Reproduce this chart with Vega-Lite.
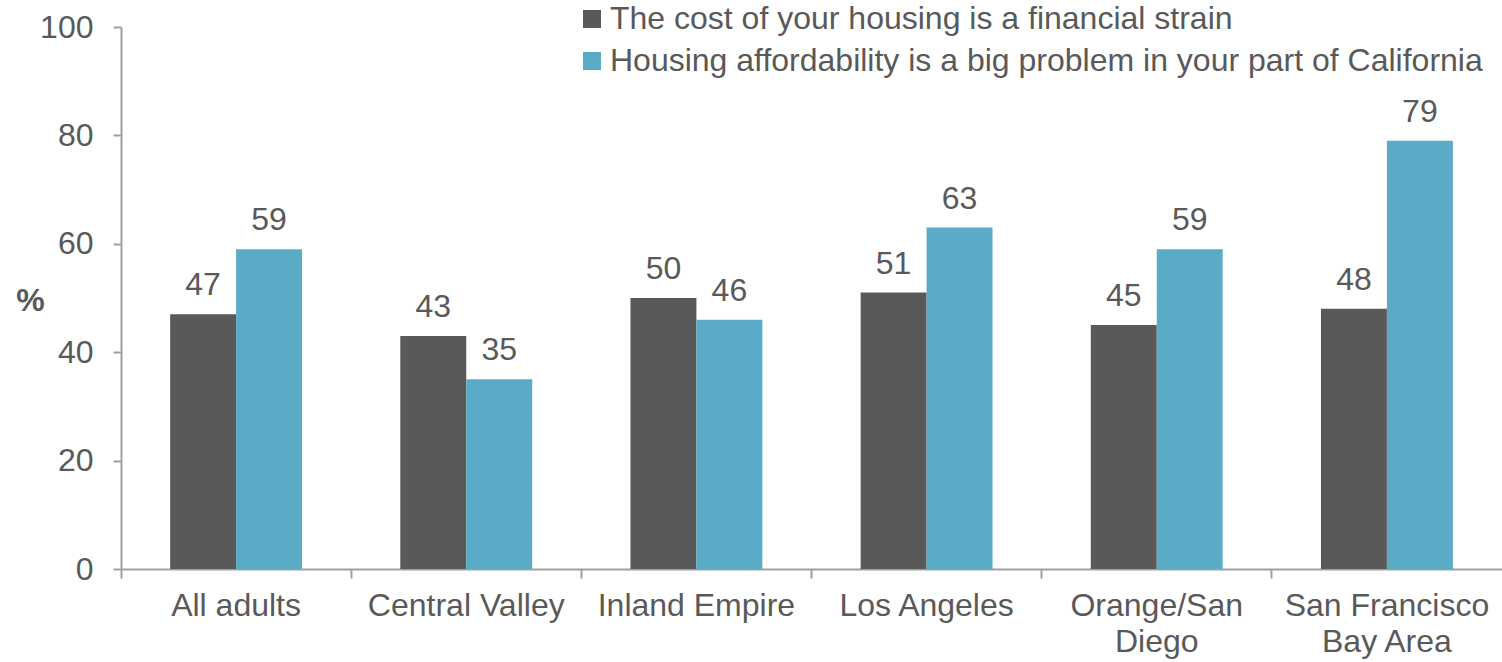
{
  "$schema": "https://vega.github.io/schema/vega-lite/v6.json",
  "width": 1381,
  "height": 542,
  "autosize": {"type": "none"},
  "padding": {"left": 121, "top": 27, "right": 0, "bottom": 93},
  "background": "white",
  "config": {
    "view": {"stroke": null},
    "font": "Liberation Sans",
    "axis": {"labelFont": "Liberation Sans", "titleFont": "Liberation Sans"}
  },
  "data": {
    "values": [
      {"region": "All adults", "series": "The cost of your housing is a financial strain", "value": 47},
      {"region": "All adults", "series": "Housing affordability is a big problem in your part of California", "value": 59},
      {"region": "Central Valley", "series": "The cost of your housing is a financial strain", "value": 43},
      {"region": "Central Valley", "series": "Housing affordability is a big problem in your part of California", "value": 35},
      {"region": "Inland Empire", "series": "The cost of your housing is a financial strain", "value": 50},
      {"region": "Inland Empire", "series": "Housing affordability is a big problem in your part of California", "value": 46},
      {"region": "Los Angeles", "series": "The cost of your housing is a financial strain", "value": 51},
      {"region": "Los Angeles", "series": "Housing affordability is a big problem in your part of California", "value": 63},
      {"region": "Orange/San Diego", "series": "The cost of your housing is a financial strain", "value": 45},
      {"region": "Orange/San Diego", "series": "Housing affordability is a big problem in your part of California", "value": 59},
      {"region": "San Francisco Bay Area", "series": "The cost of your housing is a financial strain", "value": 48},
      {"region": "San Francisco Bay Area", "series": "Housing affordability is a big problem in your part of California", "value": 79}
    ]
  },
  "encoding": {
    "x": {
      "field": "region",
      "type": "nominal",
      "sort": null,
      "scale": {"paddingInner": 0, "paddingOuter": 0},
      "axis": {
        "title": null,
        "labelAngle": 0,
        "labelFontSize": 32,
        "labelColor": "#595959",
        "labelPadding": 12,
        "labelLineHeight": 36,
        "labelBaseline": "top",
        "labelLimit": 0,
        "bandPosition": 0,
        "tickSize": 9,
        "tickColor": "#A0A0A0",
        "tickWidth": 2,
        "domainColor": "#A0A0A0",
        "domainWidth": 2,
        "labelExpr": "datum.label == 'Orange/San Diego' ? ['Orange/San', 'Diego'] : datum.label == 'San Francisco Bay Area' ? ['San Francisco', 'Bay Area'] : datum.label"
      }
    },
    "xOffset": {
      "field": "series",
      "type": "nominal",
      "sort": ["The cost of your housing is a financial strain", "Housing affordability is a big problem in your part of California"],
      "scale": {"paddingInner": 0, "paddingOuter": 0.745}
    },
    "y": {
      "field": "value",
      "type": "quantitative",
      "scale": {"domain": [0, 100]},
      "axis": {
        "title": "%",
        "titleAngle": 0,
        "titleFontSize": 32,
        "titleFontWeight": "bold",
        "titleColor": "#595959",
        "titleX": -91,
        "titleY": 273,
        "titleAlign": "center",
        "titleBaseline": "middle",
        "values": [0, 20, 40, 60, 80, 100],
        "labelFontSize": 32,
        "labelColor": "#595959",
        "labelPadding": 20,
        "tickSize": 8,
        "tickColor": "#A0A0A0",
        "tickWidth": 2,
        "domainColor": "#A0A0A0",
        "domainWidth": 2,
        "grid": false
      }
    }
  },
  "layer": [
    {
      "mark": {"type": "bar"},
      "encoding": {
        "color": {
          "field": "series",
          "type": "nominal",
          "sort": ["The cost of your housing is a financial strain", "Housing affordability is a big problem in your part of California"],
          "scale": {"range": ["#595959", "#5AACC6"]},
          "legend": {
            "title": null,
            "orient": "none",
            "legendX": 455,
            "legendY": -24,
            "symbolType": "square",
            "symbolSize": 324,
            "symbolStrokeWidth": 0,
            "symbolOpacity": 1,
            "labelFontSize": 32,
            "labelColor": "#595959",
            "labelOffset": 2,
            "labelLimit": 1200,
            "rowPadding": 10
          }
        }
      }
    },
    {
      "mark": {"type": "text", "baseline": "bottom", "dy": -12, "fontSize": 32, "color": "#595959"},
      "encoding": {
        "text": {"field": "value", "type": "quantitative"}
      }
    }
  ]
}
